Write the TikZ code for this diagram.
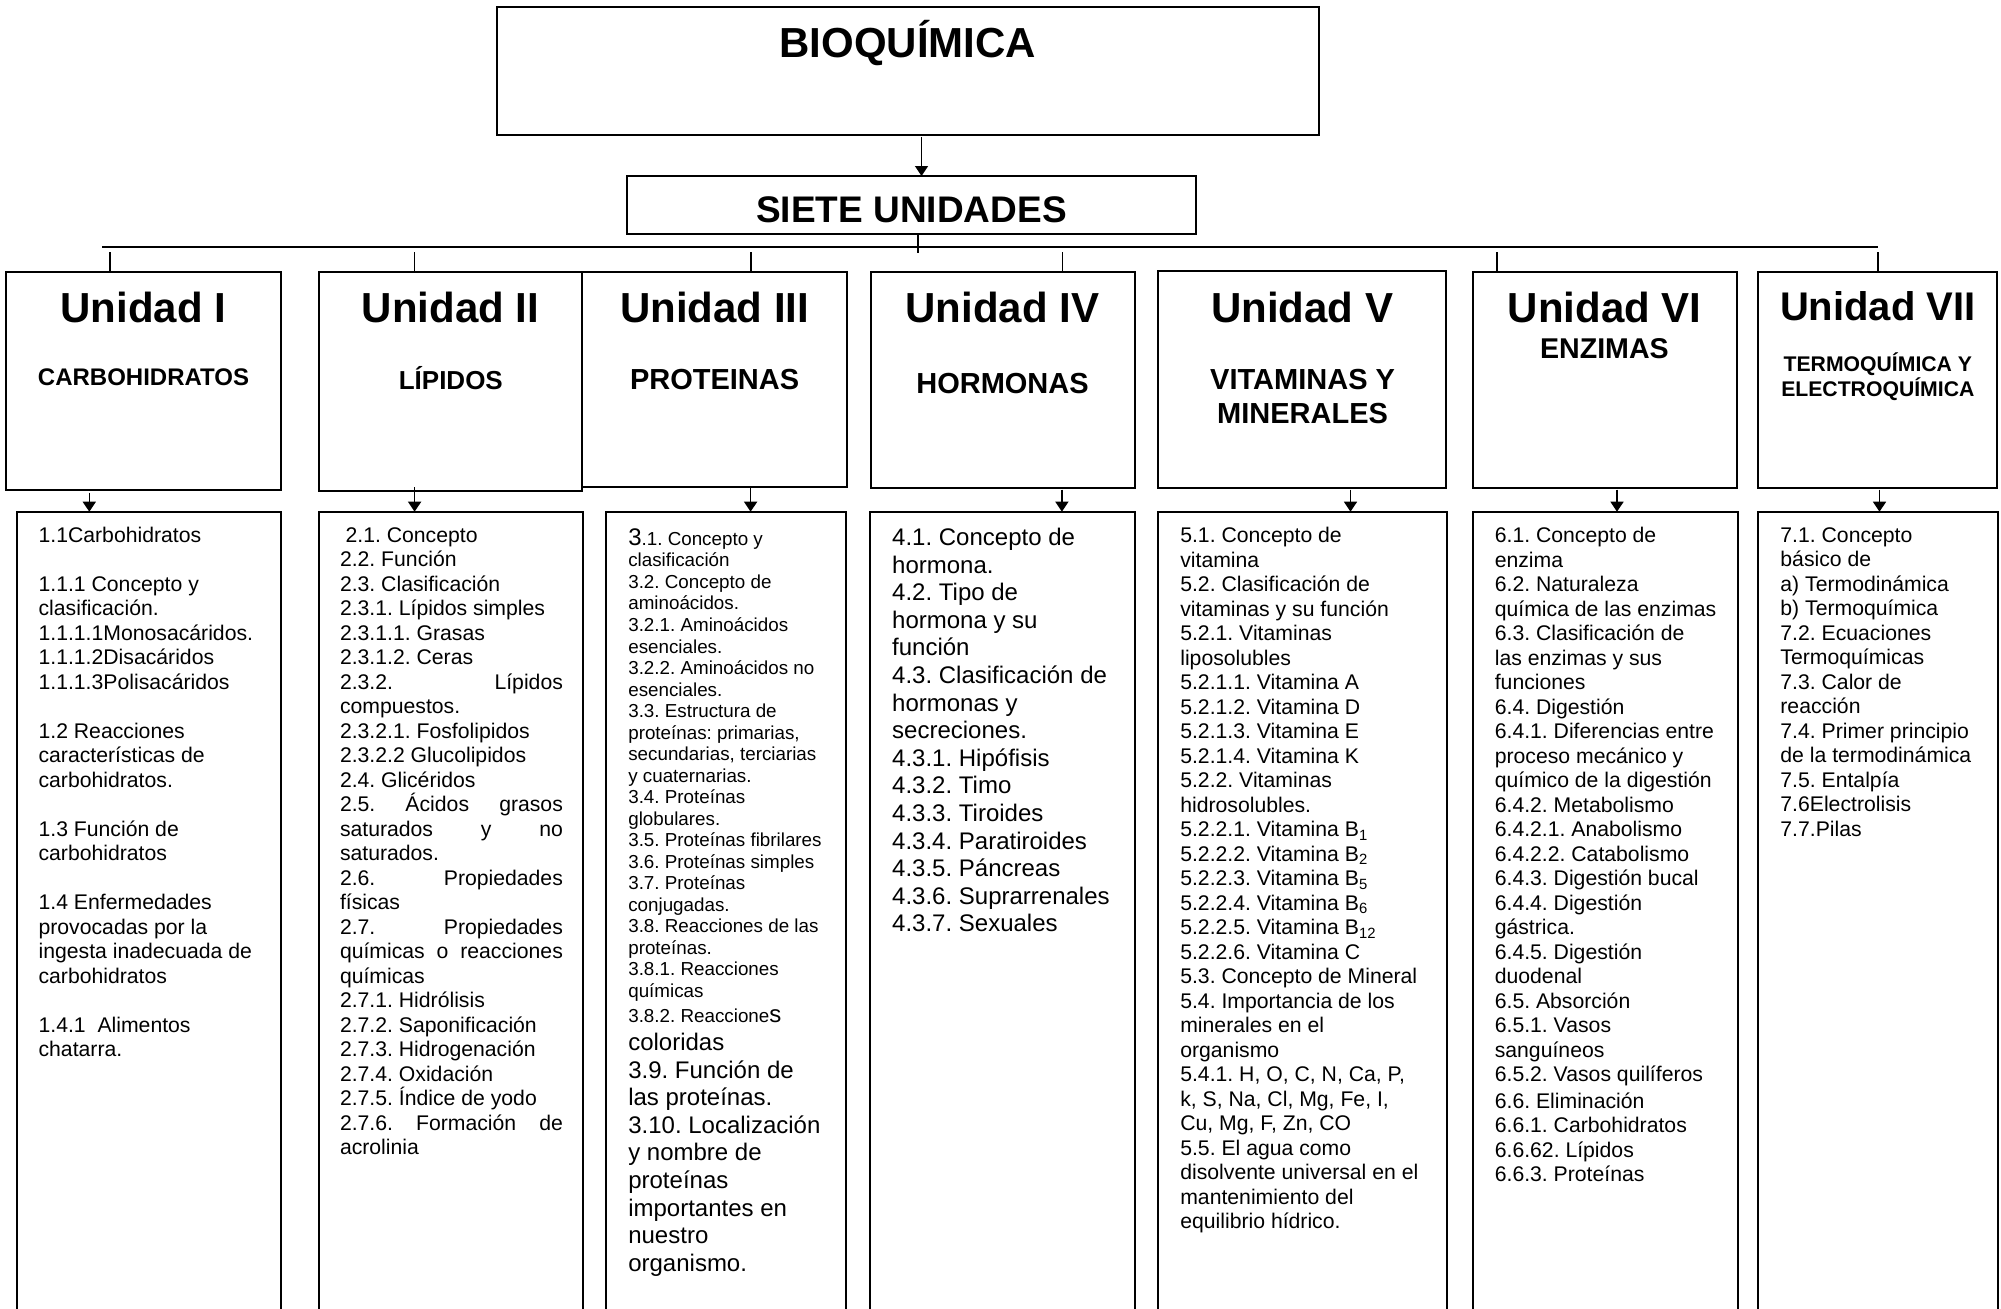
\documentclass[tikz,border=0pt]{standalone}
\usepackage{fontspec}
\setmainfont{Liberation Sans}
\usetikzlibrary{arrows.meta}
\frenchspacing
\newcommand\boxnode[5]{\node[boxst, minimum width={(#4-#2)*0.5pt}, minimum height={(#5-#3)*0.5pt}] (#1) at (#2,#3) {};}
\newcommand\jline[1]{\makebox[111.45pt][s]{#1}}
\begin{document}
\begin{tikzpicture}[x=0.5pt,y=-0.5pt,
  boxst/.style={draw, line width=1pt, inner sep=0pt, outer sep=0pt, anchor=north west},
  thinln/.style={line width=0.7pt},
  hline/.style={line width=1pt},
  arr/.style={line width=0.7pt, -{Triangle[length=5pt,width=6.5pt]}},
  title/.style={font=\bfseries\fontsize{#1}{#1}\selectfont, anchor=base, inner sep=0pt},
  body/.style={anchor=base west, inner sep=0pt, align=justify, text width=130pt, font=\frenchspacing\fontsize{10.6}{12.25}\selectfont}]
\useasboundingbox (0,0) rectangle (2001,1308);
\clip (0,0) rectangle (2001,1308);

% top boxes
\boxnode{bio}{496.8}{7.3}{1318.9}{134.7}
\boxnode{siete}{627}{176}{1196}{234}
\node[title=21] (biot) at (907.9,57.3) {BIOQUÍMICA};
\node[title=18.5] (sietet) at (911.5,222) {SIETE UNIDADES};

% unit boxes
\boxnode{u1}{6.4}{271.7}{280.6}{490}
\boxnode{u2}{319}{272}{582.3}{490.7}
\boxnode{u3}{582.3}{272}{847}{487.3}
\boxnode{u4}{870.5}{272}{1134.6}{487.7}
\boxnode{u5}{1158}{271}{1446.4}{487.7}
\boxnode{u6}{1472.6}{272}{1736.6}{487.7}
\boxnode{u7}{1757.7}{272}{1996.8}{487.7}

\node[title=21] (u1h) at (143.5,322.5) {Unidad I};
\node[title=21] (u2h) at (450.6,322) {Unidad II};
\node[title=21] (u3h) at (714.6,322) {Unidad III};
\node[title=21] (u4h) at (1002.5,322) {Unidad IV};
\node[title=21] (u5h) at (1302.2,322) {Unidad V};
\node[title=21] (u6h) at (1604.6,322) {Unidad VI};
\node[title=20] (u7h) at (1877.8,320.5) {Unidad VII};

\node[title=12] (u1s) at (143.5,385.7) {CARBOHIDRATOS};
\node[title=13] (u2s) at (450.8,389.3) {LÍPIDOS};
\node[title=14.5] (u3s) at (714.6,389.3) {PROTEINAS};
\node[title=14.5] (u4s) at (1002.5,393.3) {HORMONAS};
\node[title=14.5] (u5s) at (1302.6,389.3) {VITAMINAS Y};
\node[title=14.5] (u5s2) at (1302.6,423.3) {MINERALES};
\node[title=14.3] (u6s) at (1604.4,358.3) {ENZIMAS};
\node[title=10.6] (u7s) at (1877.8,371.7) {TERMOQUÍMICA Y};
\node[title=10.6] (u7s2) at (1877.8,396.7) {ELECTROQUÍMICA};

% content boxes
\boxnode{c1}{16.8}{511.7}{281.2}{1340}
\boxnode{c2}{318.9}{511.7}{583.2}{1340}
\boxnode{c3}{606.4}{511.7}{846.4}{1340}
\boxnode{c4}{870.4}{511.7}{1135}{1340}
\boxnode{c5}{1158.4}{511.7}{1446.6}{1340}
\boxnode{c6}{1473.4}{511.7}{1738.2}{1340}
\boxnode{c7}{1758.3}{511.7}{1998}{1340}

% connectors top
\coordinate (ab) at (921.5,137);
\draw[arr] (ab) -- (ab |- siete.north);
\coordinate (hc) at (918,253);
\draw[thinln] (siete.south -| hc) -- (hc);
\coordinate (hl) at (102,247);
\coordinate (hr) at (1878,247);
\draw[hline] (hl) -- (hr);
\coordinate (t1) at (110,252);
\coordinate (t2) at (414.6,252);
\coordinate (t3) at (751,252);
\coordinate (t4) at (1062.3,252);
\coordinate (t6) at (1496.8,252);
\coordinate (t7) at (1877.8,252);
\draw[thinln] (t1) -- (t1 |- u1.north);
\draw[thinln] (t2) -- (t2 |- u2.north);
\draw[thinln] (t3) -- (t3 |- u3.north);
\draw[thinln] (t4) -- (t4 |- u4.north);
\draw[thinln] (t6) -- (t6 |- u6.north);
\draw[thinln] (t7) -- (t7 |- u7.north);

% arrows unit -> content
\coordinate (d1) at (89.3,492.7);
\coordinate (d2) at (414.6,487.3);
\coordinate (d3) at (750.6,487.3);
\coordinate (d4) at (1061.9,489.5);
\coordinate (d5) at (1350.5,489.5);
\coordinate (d6) at (1617,489.5);
\coordinate (d7) at (1879.5,489.5);
\draw[arr] (d1) -- (d1 |- c1.north);
\draw[arr] (d2) -- (d2 |- c2.north);
\draw[arr] (d3) -- (d3 |- c3.north);
\draw[arr] (d4) -- (d4 |- c4.north);
\draw[arr] (d5) -- (d5 |- c5.north);
\draw[arr] (d6) -- (d6 |- c6.north);
\draw[arr] (d7) -- (d7 |- c7.north);

% content texts
\node[body] (c1t) at (38.2,542) {1.1Carbohidratos\\
\mbox{}\\
1.1.1 Concepto y\\
clasificación.\\
1.1.1.1Monosacáridos.\\
1.1.1.2Disacáridos\\
1.1.1.3Polisacáridos\\
\mbox{}\\
1.2 Reacciones\\
características de\\
carbohidratos.\\
\mbox{}\\
1.3 Función de\\
carbohidratos\\
\mbox{}\\
1.4 Enfermedades\\
provocadas por la\\
ingesta inadecuada de\\
carbohidratos\\
\mbox{}\\
1.4.1\ \ Alimentos\\
chatarra.};

\node[body, text width=111.45pt] (c2t) at (339.6,542) {\hspace*{2.8pt}2.1. Concepto\\
2.2. Función\\
2.3. Clasificación\\
2.3.1. Lípidos simples\\
2.3.1.1. Grasas\\
2.3.1.2. Ceras\\
\jline{2.3.2. Lípidos}\\
compuestos.\\
2.3.2.1. Fosfolipidos\\
2.3.2.2 Glucolipidos\\
2.4. Glicéridos\\
\jline{2.5. Ácidos grasos}\\
\jline{saturados y no}\\
saturados.\\
\jline{2.6. Propiedades}\\
físicas\\
\jline{2.7. Propiedades}\\
\jline{químicas o reacciones}\\
químicas\\
2.7.1. Hidrólisis\\
2.7.2. Saponificación\\
2.7.3. Hidrogenación\\
2.7.4. Oxidación\\
2.7.5. Índice de yodo\\
\jline{2.7.6. Formación de}\\
acrolinia};

\node[body, font=\frenchspacing\fontsize{9.4}{10.76}\selectfont] (c3t) at (627.9,545.4) {{\fontsize{12}{13.8}\selectfont 3}.1. Concepto y\\
clasificación\\
3.2. Concepto de\\
aminoácidos.\\
3.2.1. Aminoácidos\\
esenciales.\\
3.2.2. Aminoácidos no\\
esenciales.\\
3.3. Estructura de\\
proteínas: primarias,\\
secundarias, terciarias\\
y cuaternarias.\\
3.4. Proteínas\\
globulares.\\
3.5. Proteínas fibrilares\\
3.6. Proteínas simples\\
3.7. Proteínas\\
conjugadas.\\
3.8. Reacciones de las\\
proteínas.\\
3.8.1. Reacciones\\
químicas\\[2pt]
3.8.2. Reaccione{\fontsize{12}{13.8}\selectfont s}\par
{\fontsize{12}{13.8}\selectfont coloridas\\
3.9. Función de\\
las proteínas.\\
3.10. Localización\\
y nombre de\\
proteínas\\
importantes en\\
nuestro\\
organismo.\par}};

\node[body, font=\frenchspacing\fontsize{12}{13.8}\selectfont] (c4t) at (891.8,545.4) {4.1. Concepto de\\
hormona.\\
4.2. Tipo de\\
hormona y su\\
función\\
4.3. Clasificación de\\
hormonas y\\
secreciones.\\
4.3.1. Hipófisis\\
4.3.2. Timo\\
4.3.3. Tiroides\\
4.3.4. Paratiroides\\
4.3.5. Páncreas\\
4.3.6. Suprarrenales\\
4.3.7. Sexuales};

\node[body] (c5t) at (1179.9,542.7) {5.1. Concepto de\\
vitamina\\
5.2. Clasificación de\\
vitaminas y su función\\
5.2.1. Vitaminas\\
liposolubles\\
5.2.1.1. Vitamina A\\
5.2.1.2. Vitamina D\\
5.2.1.3. Vitamina E\\
5.2.1.4. Vitamina K\\
5.2.2. Vitaminas\\
hidrosolubles.\\
5.2.2.1. Vitamina B\textsubscript{1}\\
5.2.2.2. Vitamina B\textsubscript{2}\\
5.2.2.3. Vitamina B\textsubscript{5}\\
5.2.2.4. Vitamina B\textsubscript{6}\\
5.2.2.5. Vitamina B\textsubscript{12}\\
5.2.2.6. Vitamina C\\
5.3. Concepto de Mineral\\
5.4. Importancia de los\\
minerales en el\\
organismo\\
5.4.1. H, O, C, N, Ca, P,\\
k, S, Na, Cl, Mg, Fe, I,\\
Cu, Mg, F, Zn, CO\\
5.5. El agua como\\
disolvente universal en el\\
mantenimiento del\\
equilibrio hídrico.};

\node[body] (c6t) at (1494.4,542.7) {6.1. Concepto de\\
enzima\\
6.2. Naturaleza\\
química de las enzimas\\
6.3. Clasificación de\\
las enzimas y sus\\
funciones\\
6.4. Digestión\\
6.4.1. Diferencias entre\\
proceso mecánico y\\
químico de la digestión\\
6.4.2. Metabolismo\\
6.4.2.1. Anabolismo\\
6.4.2.2. Catabolismo\\
6.4.3. Digestión bucal\\
6.4.4. Digestión\\
gástrica.\\
6.4.5. Digestión\\
duodenal\\
6.5. Absorción\\
6.5.1. Vasos\\
sanguíneos\\
6.5.2. Vasos quilíferos\\[1pt]
6.6. Eliminación\\
6.6.1. Carbohidratos\\
6.6.62. Lípidos\\
6.6.3. Proteínas};

\node[body] (c7t) at (1780,542.3) {7.1. Concepto\\
básico de\\
a) Termodinámica\\
b) Termoquímica\\
7.2. Ecuaciones\\
Termoquímicas\\
7.3. Calor de\\
reacción\\
7.4. Primer principio\\
de la termodinámica\\
7.5. Entalpía\\
7.6Electrolisis\\
7.7.Pilas};
\end{tikzpicture}
\end{document}
